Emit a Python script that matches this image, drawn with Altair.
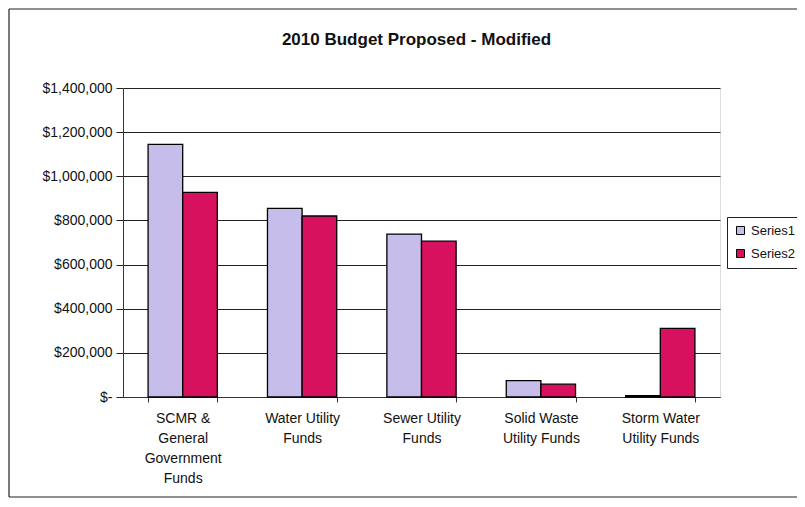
import altair as alt
import pandas as pd

categories = [
    "SCMR &|General|Government|Funds",
    "Water Utility|Funds",
    "Sewer Utility|Funds",
    "Solid Waste|Utility Funds",
    "Storm Water|Utility Funds",
]
series_names = ["Series1", "Series2"]
series1 = [1145000, 855000, 738000, 74000, 6000]
series2 = [927000, 820000, 706000, 58000, 311000]
y_ticks = [0, 200000, 400000, 600000, 800000, 1000000, 1200000, 1400000]

rows = []
for c, a, b in zip(categories, series1, series2):
    rows.append({"Category": c, "Series": series_names[0], "Value": a})
    rows.append({"Category": c, "Series": series_names[1], "Value": b})
df = pd.DataFrame(rows)

font = "Liberation Sans"

bars = alt.Chart(df).mark_bar(stroke="black", strokeWidth=1.3).encode(
    x=alt.X("Category:N", sort=categories,
            scale=alt.Scale(paddingInner=0.42, paddingOuter=0.21),
            axis=alt.Axis(title=None, labelAngle=0, labelExpr="split(datum.label, '|')",
                          labelFont=font, labelFontSize=14, labelColor="#111",
                          labelLineHeight=20, labelPadding=9, labelBaseline="top",
                          tickBand="extent", tickSize=5, tickColor="#333",
                          domainColor="#333", grid=False)),
    xOffset=alt.XOffset("Series:N", sort=series_names, scale=alt.Scale(paddingInner=0, paddingOuter=0)),
    y=alt.Y("Value:Q", scale=alt.Scale(domain=[0, 1400000], nice=False),
            axis=alt.Axis(title=None, values=y_ticks,
                          labelExpr="datum.value == 0 ? '$-' : '$' + format(datum.value, ',')",
                          labelFont=font, labelFontSize=14, labelColor="#111",
                          tickSize=7, tickColor="#222", labelPadding=4,
                          domainColor="#333", gridColor="#222", gridWidth=1)),
    color=alt.Color("Series:N", sort=series_names,
                    scale=alt.Scale(domain=series_names, range=["#c6bdea", "#d8115e"]),
                    legend=alt.Legend(title=None, orient="none", legendX=604, legendY=129,
                                      symbolType="square", symbolSize=64,
                                      symbolStrokeColor="black", symbolStrokeWidth=1,
                                      labelFont=font, labelFontSize=13, labelColor="#111",
                                      strokeColor="#222", padding=7, rowPadding=9,
                                      labelOffset=4, fillColor="white")),
)

one = pd.DataFrame({"a": [0]})
frame_top = alt.Chart(one).mark_rule(color="#222", strokeWidth=1.2).encode(
    x=alt.value(-114), x2=alt.value(700), y=alt.value(-79))
frame_bottom = alt.Chart(one).mark_rule(color="#222", strokeWidth=1.2).encode(
    x=alt.value(-114), x2=alt.value(700), y=alt.value(409))
frame_left = alt.Chart(one).mark_rule(color="#222", strokeWidth=1.2).encode(
    x=alt.value(-114), y=alt.value(-79), y2=alt.value(409))

chart = alt.layer(frame_top, frame_bottom, frame_left, bars).properties(
    width=597, height=309,
    title=alt.TitleParams("2010 Budget Proposed - Modified", font=font, fontSize=17,
                          fontWeight="bold", color="#111", offset=-41, anchor="middle",
                          dx=-5),
    padding={"left": 115, "top": 80, "right": 77, "bottom": 102},
    autosize=alt.AutoSizeParams(type="none"),
).configure_view(fill="#eddce4", stroke="#888", strokeWidth=1.2
).configure(background="white")

chart.save("out.html", embed_options={"renderer": "svg", "actions": False})
